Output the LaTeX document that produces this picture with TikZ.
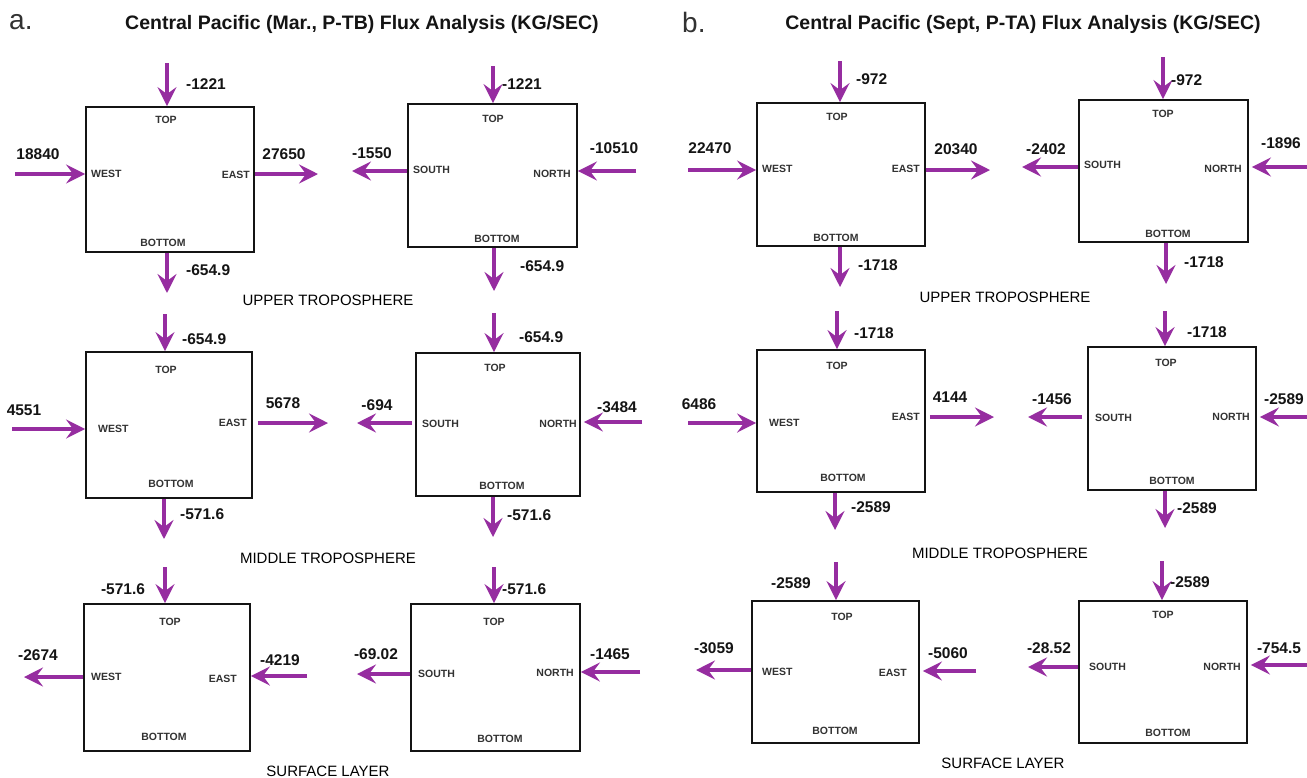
\documentclass[tikz,border=0pt]{standalone}
\usepackage{fontspec}
\setmainfont{Liberation Sans}
\usetikzlibrary{arrows.meta}
\definecolor{fluxc}{RGB}{150,45,160}
\definecolor{ink}{RGB}{20,20,20}
\definecolor{lab}{RGB}{50,50,50}
\tikzset{
  flux/.style={draw=fluxc,line width=3.8pt,-{Stealth[length=19pt,width=19pt,inset=7pt]}},
  box/.style={draw=ink,line width=1.8pt,rectangle,inner sep=0pt},
  num/.style={inner sep=0pt,text=ink,font=\fontsize{15.5}{18}\selectfont\bfseries},
  lbl/.style={inner sep=0pt,text=lab,font=\fontsize{10.5}{12}\selectfont\bfseries},
  layer/.style={inner sep=0pt,text=black,font=\fontsize{15}{18}\selectfont},
  ttl/.style={inner sep=0pt,text=ink,font=\fontsize{19.5}{22}\selectfont\bfseries},
  panel/.style={inner sep=0pt,text=lab,font=\fontsize{28}{30}\selectfont},
}
\begin{document}
\begin{tikzpicture}[x=1pt,y=-1pt]
\useasboundingbox (0,0) rectangle (1307,777);
\fill[white] (0,0) rectangle (1307,777);

% ---------- titles ----------
\node[panel,anchor=west] (pa) at (9,22) {a.};
\node[ttl] (ta) at (362,24) {Central Pacific (Mar., P-TB) Flux Analysis (KG/SEC)};
\node[panel,anchor=west] (pb) at (682,22) {b.};
\node[ttl] (tb) at (1023,24) {Central Pacific (Sept, P-TA) Flux Analysis (KG/SEC)};

% =================== PANEL A ===================
% A1
\node[box,minimum width=168pt,minimum height=145pt] (A1) at (170,179.5) {};
\node[lbl] (A1t) at (166,120) {TOP};
\node[lbl,anchor=west] (A1w) at (91,174) {WEST};
\node[lbl,anchor=east] (A1e) at (250,175) {EAST};
\node[lbl] (A1b) at (163,243) {BOTTOM};
\coordinate (A1ti) at (167,63);
\coordinate (A1wi) at (15,174);
\coordinate (A1eo) at (318,174);
\coordinate (A1bo) at (167,293);
\draw[flux] (A1ti) -- (A1ti |- A1.north);
\draw[flux] (A1wi) -- (A1wi -| A1.west);
\draw[flux] (A1eo -| A1.east) -- (A1eo);
\draw[flux] (A1bo |- A1.south) -- (A1bo);
\node[num,anchor=west] (A1tn) at (186,84) {-1221};
\node[num] (A1wn) at (38,154) {18840};
\node[num] (A1en) at (284,154) {27650};
\node[num,anchor=west] (A1bn) at (186,270) {-654.9};

% A2
\node[box,minimum width=169pt,minimum height=143pt] (A2) at (492.5,175.5) {};
\node[lbl] (A2t) at (493,119) {TOP};
\node[lbl,anchor=west] (A2s) at (413,170) {SOUTH};
\node[lbl,anchor=east] (A2n) at (571,174) {NORTH};
\node[lbl] (A2b) at (497,239) {BOTTOM};
\coordinate (A2ti) at (493,66);
\coordinate (A2so) at (352,171);
\coordinate (A2ni) at (636,171);
\coordinate (A2bo) at (494,291);
\draw[flux] (A2ti) -- (A2ti |- A2.north);
\draw[flux] (A2so -| A2.west) -- (A2so);
\draw[flux] (A2ni) -- (A2ni -| A2.east);
\draw[flux] (A2bo |- A2.south) -- (A2bo);
\node[num,anchor=west] (A2tn) at (502,84) {-1221};
\node[num] (A2sn) at (372,153) {-1550};
\node[num] (A2nn) at (614,148) {-10510};
\node[num,anchor=west] (A2bn) at (520,266) {-654.9};

\node[layer] (L1a) at (328,300) {UPPER TROPOSPHERE};

% A3
\node[box,minimum width=166pt,minimum height=146pt] (A3) at (169,425) {};
\node[lbl] (A3t) at (166,370) {TOP};
\node[lbl,anchor=west] (A3w) at (98,429) {WEST};
\node[lbl,anchor=east] (A3e) at (247,423) {EAST};
\node[lbl] (A3b) at (171,484) {BOTTOM};
\coordinate (A3ti) at (165,314);
\coordinate (A3wi) at (12,429);
\coordinate (A3eo) at (328,423);
\coordinate (A3bo) at (164,539);
\draw[flux] (A3ti) -- (A3ti |- A3.north);
\draw[flux] (A3wi) -- (A3wi -| A3.west);
\draw[flux,shorten <=5pt] (A3eo -| A3.east) -- (A3eo);
\draw[flux] (A3bo |- A3.south) -- (A3bo);
\node[num,anchor=west] (A3tn) at (182,339) {-654.9};
\node[num] (A3wn) at (24,410) {4551};
\node[num] (A3en) at (283,403) {5678};
\node[num,anchor=west] (A3bn) at (180,514) {-571.6};

% A4
\node[box,minimum width=164pt,minimum height=143pt] (A4) at (498,424.5) {};
\node[lbl] (A4t) at (495,368) {TOP};
\node[lbl,anchor=west] (A4s) at (422,424) {SOUTH};
\node[lbl,anchor=east] (A4n) at (577,424) {NORTH};
\node[lbl] (A4b) at (502,486) {BOTTOM};
\coordinate (A4ti) at (494,313);
\coordinate (A4so) at (357,423);
\coordinate (A4ni) at (642,422);
\coordinate (A4bo) at (493,537);
\draw[flux] (A4ti) -- (A4ti |- A4.north);
\draw[flux,shorten <=3pt] (A4so -| A4.west) -- (A4so);
\draw[flux,shorten >=3pt] (A4ni) -- (A4ni -| A4.east);
\draw[flux] (A4bo |- A4.south) -- (A4bo);
\node[num,anchor=west] (A4tn) at (519,337) {-654.9};
\node[num] (A4sn) at (377,405) {-694};
\node[num] (A4nn) at (617,407) {-3484};
\node[num,anchor=west] (A4bn) at (507,515) {-571.6};

\node[layer] (L2a) at (328,558) {MIDDLE TROPOSPHERE};

% A5
\node[box,minimum width=166pt,minimum height=147pt] (A5) at (167,677.5) {};
\node[lbl] (A5t) at (170,622) {TOP};
\node[lbl,anchor=west] (A5w) at (91,677) {WEST};
\node[lbl,anchor=east] (A5e) at (237,679) {EAST};
\node[lbl] (A5b) at (164,737) {BOTTOM};
\coordinate (A5ti) at (165,567);
\coordinate (A5wo) at (24,677);
\coordinate (A5ei) at (307,676);
\draw[flux] (A5ti) -- (A5ti |- A5.north);
\draw[flux] (A5wo -| A5.west) -- (A5wo);
\draw[flux] (A5ei) -- (A5ei -| A5.east);
\node[num] (A5tn) at (123,589) {-571.6};
\node[num] (A5wn) at (38,655) {-2674};
\node[num] (A5en) at (280,660) {-4219};

% A6
\node[box,minimum width=169pt,minimum height=147pt] (A6) at (495.5,677.5) {};
\node[lbl] (A6t) at (494,622) {TOP};
\node[lbl,anchor=west] (A6s) at (418,674) {SOUTH};
\node[lbl,anchor=east] (A6n) at (574,673) {NORTH};
\node[lbl] (A6b) at (500,739) {BOTTOM};
\coordinate (A6ti) at (494,567);
\coordinate (A6so) at (357,674);
\coordinate (A6ni) at (640,672);
\draw[flux] (A6ti) -- (A6ti |- A6.north);
\draw[flux] (A6so -| A6.west) -- (A6so);
\draw[flux] (A6ni) -- (A6ni -| A6.east);
\node[num,anchor=west] (A6tn) at (502,589) {-571.6};
\node[num] (A6sn) at (376,654) {-69.02};
\node[num] (A6nn) at (610,654) {-1465};

\node[layer] (L3a) at (328,771) {SURFACE LAYER};

% =================== PANEL B ===================
% B1
\node[box,minimum width=168pt,minimum height=143pt] (B1) at (841,174.5) {};
\node[lbl] (B1t) at (837,117) {TOP};
\node[lbl,anchor=west] (B1w) at (762,169) {WEST};
\node[lbl,anchor=east] (B1e) at (920,169) {EAST};
\node[lbl] (B1b) at (836,238) {BOTTOM};
\coordinate (B1ti) at (840,61);
\coordinate (B1wi) at (688,170);
\coordinate (B1eo) at (990,170);
\coordinate (B1bo) at (840,287);
\draw[flux] (B1ti) -- (B1ti |- B1.north);
\draw[flux] (B1wi) -- (B1wi -| B1.west);
\draw[flux] (B1eo -| B1.east) -- (B1eo);
\draw[flux] (B1bo |- B1.south) -- (B1bo);
\node[num,anchor=west] (B1tn) at (856,79) {-972};
\node[num] (B1wn) at (710,148) {22470};
\node[num] (B1en) at (956,149) {20340};
\node[num,anchor=west] (B1bn) at (858,265) {-1718};

% B2
\node[box,minimum width=169pt,minimum height=142pt] (B2) at (1163.5,171) {};
\node[lbl] (B2t) at (1163,114) {TOP};
\node[lbl,anchor=west] (B2s) at (1084,165) {SOUTH};
\node[lbl,anchor=east] (B2n) at (1242,169) {NORTH};
\node[lbl] (B2b) at (1168,234) {BOTTOM};
\coordinate (B2ti) at (1163,57);
\coordinate (B2so) at (1022,167);
\coordinate (B2ni) at (1307,167);
\coordinate (B2bo) at (1166,284);
\draw[flux] (B2ti) -- (B2ti |- B2.north);
\draw[flux] (B2so -| B2.west) -- (B2so);
\draw[flux,shorten >=3pt] (B2ni) -- (B2ni -| B2.east);
\draw[flux] (B2bo |- B2.south) -- (B2bo);
\node[num,anchor=west] (B2tn) at (1171,80) {-972};
\node[num] (B2sn) at (1046,149) {-2402};
\node[num] (B2nn) at (1281,143) {-1896};
\node[num,anchor=west] (B2bn) at (1184,262) {-1718};

\node[layer] (L1b) at (1005,297) {UPPER TROPOSPHERE};

% B3
\node[box,minimum width=168pt,minimum height=142pt] (B3) at (841,421) {};
\node[lbl] (B3t) at (837,366) {TOP};
\node[lbl,anchor=west] (B3w) at (769,423) {WEST};
\node[lbl,anchor=east] (B3e) at (920,417) {EAST};
\node[lbl] (B3b) at (843,478) {BOTTOM};
\coordinate (B3ti) at (837,311);
\coordinate (B3wi) at (688,423);
\coordinate (B3eo) at (994,417);
\coordinate (B3bo) at (835,530);
\draw[flux] (B3ti) -- (B3ti |- B3.north);
\draw[flux] (B3wi) -- (B3wi -| B3.west);
\draw[flux,shorten <=4pt] (B3eo -| B3.east) -- (B3eo);
\draw[flux] (B3bo |- B3.south) -- (B3bo);
\node[num,anchor=west] (B3tn) at (854,333) {-1718};
\node[num] (B3wn) at (699,404) {6486};
\node[num] (B3en) at (950,397) {4144};
\node[num,anchor=west] (B3bn) at (851,507) {-2589};

% B4
\node[box,minimum width=168pt,minimum height=143pt] (B4) at (1172,418.5) {};
\node[lbl] (B4t) at (1166,363) {TOP};
\node[lbl,anchor=west] (B4s) at (1095,418) {SOUTH};
\node[lbl,anchor=east] (B4n) at (1250,417) {NORTH};
\node[lbl] (B4b) at (1172,481) {BOTTOM};
\coordinate (B4ti) at (1165,311);
\coordinate (B4so) at (1028,417);
\coordinate (B4ni) at (1309,417);
\coordinate (B4bo) at (1165,528);
\draw[flux] (B4ti) -- (B4ti |- B4.north);
\draw[flux,shorten <=5pt] (B4so -| B4.west) -- (B4so);
\draw[flux,shorten >=3pt] (B4ni) -- (B4ni -| B4.east);
\draw[flux] (B4bo |- B4.south) -- (B4bo);
\node[num,anchor=west] (B4tn) at (1187,332) {-1718};
\node[num] (B4sn) at (1052,399) {-1456};
\node[num] (B4nn) at (1284,399) {-2589};
\node[num,anchor=west] (B4bn) at (1177,508) {-2589};

\node[layer] (L2b) at (1000,553) {MIDDLE TROPOSPHERE};

% B5
\node[box,minimum width=167pt,minimum height=142pt] (B5) at (835.5,672) {};
\node[lbl] (B5t) at (842,617) {TOP};
\node[lbl,anchor=west] (B5w) at (762,672) {WEST};
\node[lbl,anchor=east] (B5e) at (907,673) {EAST};
\node[lbl] (B5b) at (835,731) {BOTTOM};
\coordinate (B5ti) at (836,562);
\coordinate (B5wo) at (696,670);
\coordinate (B5ei) at (976,671);
\draw[flux] (B5ti) -- (B5ti |- B5.north);
\draw[flux] (B5wo -| B5.west) -- (B5wo);
\draw[flux,shorten >=3pt] (B5ei) -- (B5ei -| B5.east);
\node[num] (B5tn) at (791,583) {-2589};
\node[num] (B5wn) at (714,648) {-3059};
\node[num] (B5en) at (948,653) {-5060};

% B6
\node[box,minimum width=168pt,minimum height=142pt] (B6) at (1163,672) {};
\node[lbl] (B6t) at (1163,615) {TOP};
\node[lbl,anchor=west] (B6s) at (1089,667) {SOUTH};
\node[lbl,anchor=east] (B6n) at (1241,667) {NORTH};
\node[lbl] (B6b) at (1168,733) {BOTTOM};
\coordinate (B6ti) at (1162,561);
\coordinate (B6so) at (1028,667);
\coordinate (B6ni) at (1307,665);
\draw[flux] (B6ti) -- (B6ti |- B6.north);
\draw[flux] (B6so -| B6.west) -- (B6so);
\draw[flux,shorten >=3pt] (B6ni) -- (B6ni -| B6.east);
\node[num,anchor=west] (B6tn) at (1170,582) {-2589};
\node[num] (B6sn) at (1049,648) {-28.52};
\node[num] (B6nn) at (1279,648) {-754.5};

\node[layer] (L3b) at (1003,763) {SURFACE LAYER};
\end{tikzpicture}
\end{document}
